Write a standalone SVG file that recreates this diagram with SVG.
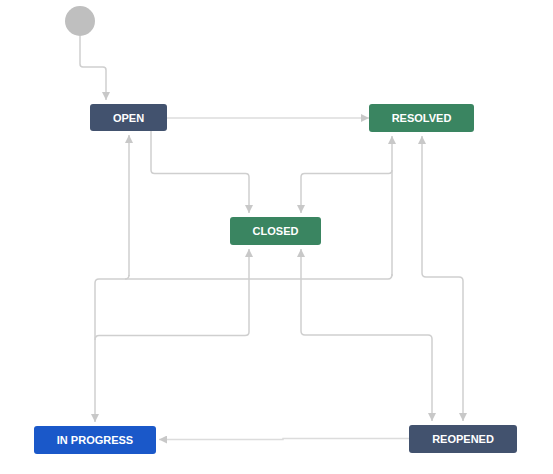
<svg xmlns="http://www.w3.org/2000/svg" width="553" height="474" viewBox="0 0 553 474">
<defs>
<style>
.e{fill:none;stroke:#cfcfcf;stroke-width:1.5}
.l{fill:none;stroke:#dcdcdc;stroke-width:1.5}
.a{fill:#c8c8c8}
.t{font-family:"Liberation Sans",Arial,sans-serif;font-size:11px;font-weight:bold;fill:#fff;text-anchor:middle;dominant-baseline:central}
.dk{fill:#42526e}
.gr{fill:#3a8561}
.bl{fill:#1a58c9}
</style>
<marker id="ah" viewBox="0 0 8 8" refX="8" refY="4" markerWidth="8" markerHeight="8" markerUnits="userSpaceOnUse" orient="auto">
<path class="a" d="M0,0L8,4L0,8z"/>
</marker>
</defs>
<rect width="553" height="474" fill="#fff"/>
<g id="connectors">
<path class="e" d="M80,36V64Q80,67 83,67H103Q106,67 106,70V100" marker-end="url(#ah)"/>
<path class="l" d="M167,118H369" marker-end="url(#ah)"/>
<path class="e" d="M151,131V170Q151,173.5 154.5,173.5H245.5Q249,173.5 249,177V213" marker-end="url(#ah)"/>
<path class="e" d="M392,170Q392,173.5 388.5,173.5H304.5Q301,173.5 301,177V213" marker-end="url(#ah)"/>
<path class="e" d="M392,276V136" marker-end="url(#ah)"/>
<path class="e" d="M392,274Q392,279 388,279H99Q95,279 95,283V422" marker-end="url(#ah)"/>
<path class="e" d="M129,275Q129,279 125,279"/>
<path class="e" d="M129,276V135" marker-end="url(#ah)"/>
<path class="e" d="M95,340Q95,335.5 99,335.5H245Q249,335.5 249,332V249" marker-end="url(#ah)"/>
<path class="e" d="M301,331V249" marker-end="url(#ah)"/>
<path class="e" d="M301,331Q301,335 305,335H428Q432,335 432,339V421" marker-end="url(#ah)"/>
<path class="e" d="M422,273V136" marker-end="url(#ah)"/>
<path class="e" d="M422,273Q422,277 426,277H459Q463,277 463,281V421" marker-end="url(#ah)"/>
<path class="l" d="M409,438.5H283V439.5H159" marker-end="url(#ah)"/>
</g>
<g id="start"><circle cx="80" cy="21" r="15" fill="#bfbfbf"/></g>
<g id="open"><rect class="dk" x="90" y="104" width="77" height="27" rx="3"/><text class="t" x="128.5" y="118">OPEN</text></g>
<g id="resolved"><rect class="gr" x="369" y="104" width="105" height="28" rx="3"/><text class="t" x="421.5" y="118">RESOLVED</text></g>
<g id="closed"><rect class="gr" x="230" y="217" width="91" height="28" rx="3"/><text class="t" x="275.5" y="231">CLOSED</text></g>
<g id="inprogress"><rect class="bl" x="34" y="426" width="122" height="28" rx="3"/><text class="t" x="95" y="440">IN PROGRESS</text></g>
<g id="reopened"><rect class="dk" x="409" y="425" width="108" height="28" rx="3"/><text class="t" x="463" y="439">REOPENED</text></g>
</svg>
